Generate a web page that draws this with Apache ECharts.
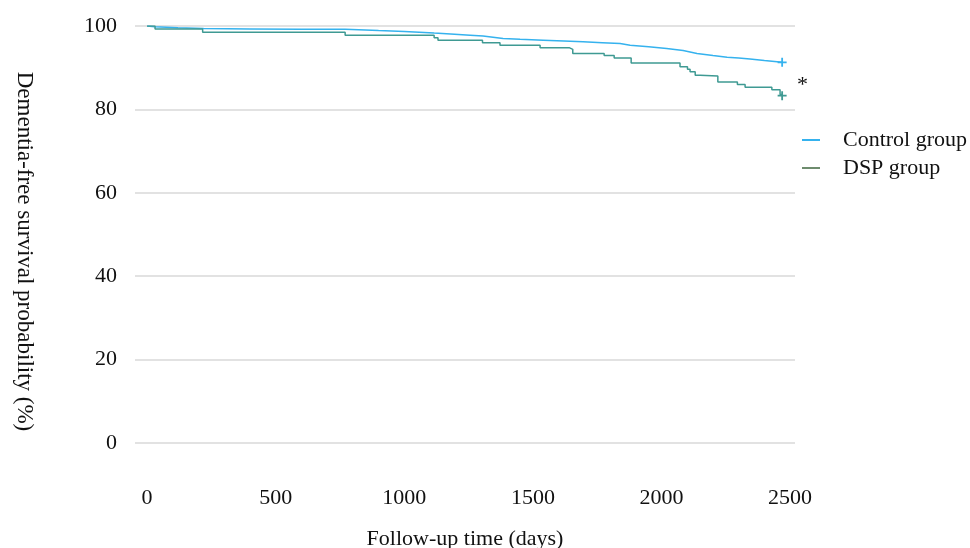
<!DOCTYPE html>
<html>
<head>
<meta charset="utf-8">
<script src="https://cdn.jsdelivr.net/npm/echarts@6/dist/echarts.min.js"></script>
<style>
  html, body { margin: 0; padding: 0; background: #fff; }
  #chart { width: 970px; height: 548px; }
</style>
</head>
<body>
<div id="chart"></div>
<script>
// tick labels
const xTicks = [0, 500, 1000, 1500, 2000, 2500]
const yTicks = [0, 20, 40, 60, 80, 100]

// control group: days / survival (%)
const controlDays = [0, 30, 120, 220, 400, 600, 770, 900, 1000, 1116, 1180, 1256, 1306, 1384, 1450, 1540, 1620, 1695, 1770, 1839, 1878, 1950, 2020, 2084, 2138, 2200, 2255, 2300, 2344, 2400, 2469]
const controlSurv = [100, 99.8, 99.6, 99.4, 99.3, 99.2, 99.2, 98.9, 98.7, 98.3, 98.1, 97.8, 97.6, 97.0, 96.8, 96.6, 96.4, 96.2, 96.0, 95.8, 95.4, 95.0, 94.6, 94.1, 93.4, 92.9, 92.5, 92.3, 92.1, 91.7, 91.3]

// DSP group: days / survival (%)
const dspDays = [0, 31, 216, 770, 1116, 1131, 1304, 1372, 1528, 1641, 1655, 1777, 1816, 1882, 2072, 2101, 2111, 2131, 2150, 2219, 2295, 2325, 2429, 2461, 2469]
const dspSurv = [100, 99.3, 98.5, 97.8, 97.2, 96.6, 96.0, 95.4, 94.8, 94.4, 93.4, 92.9, 92.3, 91.1, 90.2, 89.6, 89.0, 88.2, 88.0, 86.6, 86.0, 85.3, 84.7, 83.6, 83.3]

const FONT = 'Liberation Serif'
const PLUS = 'path://M4,0L6,0L6,4L10,4L10,6L6,6L6,10L4,10L4,6L0,6L0,4L4,4Z'

function pairs (xs, ys) {
  return xs.map((x, i) => [x, ys[i]])
}

// step: false for the big control group (many tiny drops look like a line)
function kmSeries (name, xs, ys, color, step) {
  let n = xs.length - 1
  return {
    name: name,
    type: 'line',
    step: step,
    showSymbol: false,
    color: color,
    lineStyle: { width: 1.5, color: color },
    data: pairs(xs, ys),
    markPoint: {
      symbol: PLUS,
      symbolSize: 9,
      itemStyle: { color: color },
      label: { show: false },
      data: [{ coord: [xs[n], ys[n]] }]
    }
  }
}

let chart = echarts.init(document.getElementById('chart'))
chart.setOption({
  animation: false,
  grid: { left: 135, right: 175, top: 26, bottom: 105, outerBoundsMode: 'none', containLabel: false },
  legend: {
    orient: 'vertical',
    left: 797,
    top: 124,
    icon: 'rect',
    itemWidth: 18,
    itemHeight: 2,
    itemGap: 6,
    textStyle: { fontFamily: FONT, fontSize: 22, color: '#111', lineHeight: 20, padding: [0, 0, 0, 18] },
    data: [
      { name: 'Control group' },
      { name: 'DSP group', itemStyle: { color: '#6e8c6e' } }
    ]
  },
  graphic: [{
    type: 'text',
    left: 797,
    top: 74,
    style: { text: '*', font: '22px "Liberation Serif"', fill: '#111' }
  }],
  xAxis: {
    type: 'value',
    min: -47,
    max: 2519,
    name: 'Follow-up time (days)',
    nameLocation: 'middle',
    nameGap: 85,
    nameTextStyle: { fontFamily: FONT, fontSize: 22, color: '#111' },
    axisLine: { show: false },
    axisTick: { show: false },
    splitLine: { show: false },
    axisLabel: {
      customValues: xTicks,
      margin: 44,
      fontFamily: FONT,
      fontSize: 22,
      color: '#111',
      formatter: v => String(v)
    }
  },
  yAxis: {
    type: 'value',
    min: 0,
    max: 100,
    interval: 20,
    name: 'Dementia-free survival probability (%)',
    nameLocation: 'middle',
    nameRotate: -90,
    nameGap: 99,
    nameTextStyle: { fontFamily: FONT, fontSize: 23, color: '#111', padding: [0, 0, 0, 34] },
    axisLine: { show: false },
    axisTick: { show: false },
    splitLine: { lineStyle: { color: '#d9d9d9', width: 1.5 } },
    axisLabel: { customValues: yTicks, margin: 18, fontFamily: FONT, fontSize: 22, color: '#111' }
  },
  series: [
    kmSeries('Control group', controlDays, controlSurv, '#35b2ee', false),
    kmSeries('DSP group', dspDays, dspSurv, '#3f9a93', 'end')
  ]
})
</script>
</body>
</html>
